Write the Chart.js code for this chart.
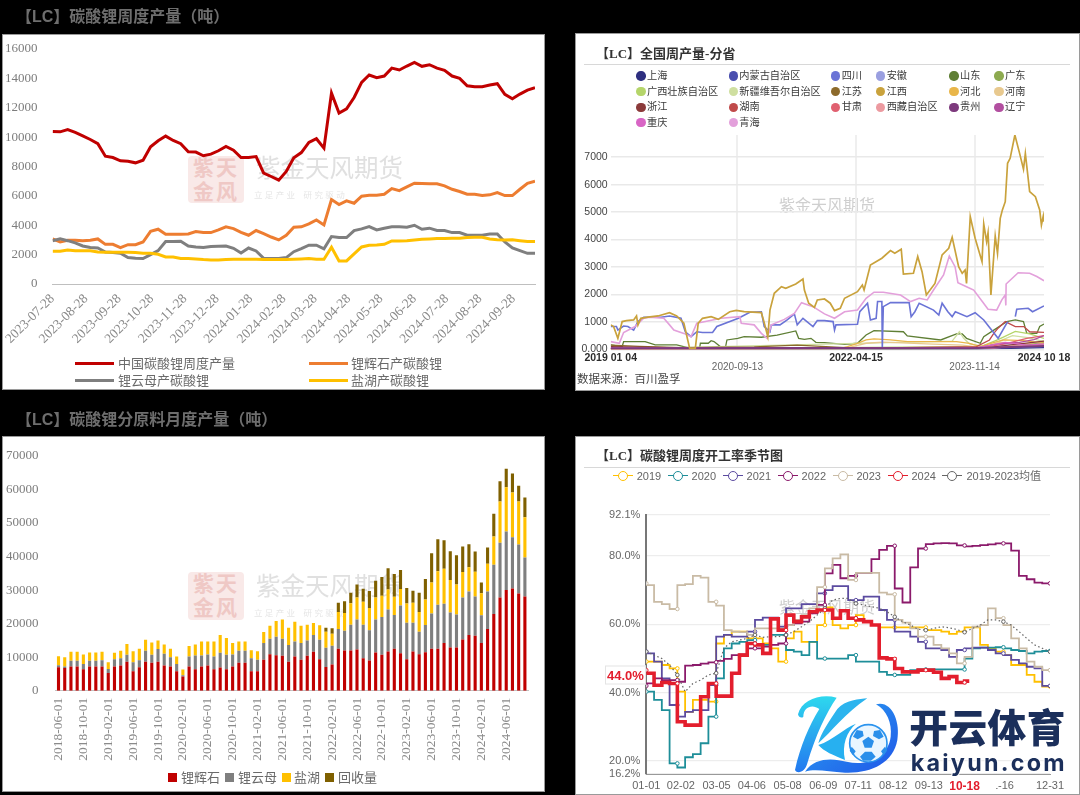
<!DOCTYPE html>
<html><head><meta charset="utf-8">
<script src="https://cdn.jsdelivr.net/npm/chart.js@4/dist/chart.umd.js"></script>
<style>
html,body{margin:0;padding:0;background:#000;width:1080px;height:795px;overflow:hidden}
body{position:relative;font-family:"Liberation Serif","Noto Sans CJK SC",serif}
.panel{position:absolute;background:#fff;box-shadow:inset 0 0 0 1px #9a9a9a}
canvas{position:absolute;left:0;top:0;filter:blur(.4px)}
.t{position:absolute;white-space:nowrap;transform:translateY(-50%);line-height:1;filter:blur(.3px)}
</style></head><body>
<script>
// ---------- Panel 1: weekly output (tons), one value per week from 2023-07-28
const weeklyStart='2023-07-28';
const weeklyTicks=['2023-07-28','2023-08-28','2023-09-28','2023-10-28','2023-11-28','2023-12-28','2024-01-28','2024-02-28','2024-03-28','2024-04-28','2024-05-28','2024-06-28','2024-07-28','2024-08-28','2024-09-28'];
const weeklyTotal=[10390,10360,10520,10320,10090,9840,9550,8700,8610,8390,8360,8250,8430,9340,9750,10070,9770,9550,9000,8980,8730,8840,9070,9360,9110,8610,8610,8680,7550,7320,7070,7660,8590,8950,9640,9890,9250,13000,11640,11930,12700,13730,14230,14050,14160,14700,14570,14840,15090,14820,14930,14700,14550,14160,14000,13500,13430,13430,13550,13640,12910,12610,12930,13200,13360];
const weeklySpodumene=[3070,2860,2980,2980,2950,2980,3070,2700,2700,2480,2680,2680,2860,3590,3730,3390,3390,3390,3410,3570,3500,3500,3680,3890,3770,3520,3320,3640,3430,3200,3000,3320,3860,3890,4090,4360,4020,5750,5410,5660,5500,5980,6050,6050,6110,6500,6360,6610,6860,6840,6820,6820,6680,6450,6300,6110,6110,6020,6070,6230,6020,6020,6450,6860,7000];
const weeklyLepidolite=[2950,3070,2950,2800,2590,2480,2450,2180,2140,2090,1800,1750,1730,2000,2270,2890,2890,2910,2590,2520,2480,2550,2570,2590,2430,2110,2450,2250,1750,1730,1730,1800,2200,2410,2640,2640,2390,3230,3160,3160,3640,3750,3910,3680,3800,3890,3890,3860,4000,3730,3800,3640,3640,3500,3500,3320,3320,3320,3410,3410,2860,2450,2270,2090,2090];
const weeklyBrine=[2230,2230,2320,2270,2270,2270,2180,2160,2160,2160,2160,2140,2090,2090,2020,1840,1840,1730,1730,1700,1660,1640,1640,1660,1680,1680,1680,1680,1660,1660,1660,1660,1680,1700,1730,1680,1680,2500,1570,1570,2050,2520,2640,2660,2700,2930,2930,2950,3000,3050,3070,3090,3090,3110,3110,3160,3180,3180,3070,3020,3000,3020,2950,2890,2890];

// ---------- Panel 2: provincial weekly output, sampled as (week since 2019-01-04, tons)
const jiangxiWeek=[0,2,5,8,11,16,18,19,21,26,33,41,46,51,55,59,61,64,70,75,83,87.5,93,105,107,109.5,111,114,119,122,129,134,135,138,142,144,149,153,156,160,163,172,175.4,176.6,181,189,195,198,202.5,204,211,214,217,220,226,231,235.6,238,242.5,245,247,248,250.6,254,258.8,260,262,263,265,268,269.6,271.5,273,275,276.6,278.4,281.7,285,287.7,289,292,296,299,300.2,301.5,302];
const jiangxiVal=[890,830,400,1010,1045,1070,1215,890,1130,1170,1215,1335,1215,950,40,40,950,1130,1190,1090,1370,1420,1370,1335,970,460,1430,2040,2280,2220,2380,2560,2160,1680,1530,1800,1835,1680,1410,1495,1860,2100,2345,2160,3070,3320,3600,3500,3645,2745,2770,3380,2830,1980,2400,3440,3680,4080,3010,2770,2890,2400,4835,4050,3195,4570,3925,4250,1980,4130,3500,4775,5080,5380,6780,6960,7810,7140,6560,7140,5750,5560,5080,4530,4860,4650];
const qinghaiWeek=[0,6,9,17,23,27,37,41,44,51,56,60,66,77,90,91,100,105,109,112,121,128,133,141,149,156,163,172,178,183.5,190,202,209,215,220.6,225,232,236,240,242,248,253,259,263,269,272.6,275,275.4,275.6,284,292,297,302];
const qinghaiVal=[280,220,610,830,1130,1170,1130,890,700,580,460,950,1010,1130,1190,950,890,580,400,890,1090,1310,1700,1555,1290,1130,1370,1430,1860,2080,2080,1980,1740,1860,1800,2160,2710,3400,3010,2430,2280,2160,1740,1460,1430,1800,1980,1600,2380,2790,2770,2650,2500];
const sichuanWeek=[0,4,5,9,12,16,19,23,35,41,49,52,56,60,64,71,74,89,97,105,107,111,112,118,123,128,130,134,141,144,149,155,156,157,172,173.6,179,181,185,186,189,189.3,190,195,208,209.4,212,215,225,228.7,231,235,238,240.2,248.3,254,260,264.5,270,276,277,null,282,283,291,294,302];
const sichuanVal=[830,830,700,850,830,700,1010,1170,1170,1215,1130,640,460,640,610,610,830,1130,1350,1370,830,640,890,890,1070,1290,890,1130,830,1045,1045,1010,700,890,910,1370,1680,1070,1130,1740,1740,40,1555,1700,1700,1190,1370,1680,1430,1250,1680,1370,1190,1370,1190,1335,1070,765,400,950,1000,null,1190,1460,1495,1370,1580];
const shandongWeek=[0,8,9,24,31,46,55,62,62.5,68,70,72,77,80,81,88.6,93,105,116,129,131,135,139.6,143,149,163,172,178,183.5,204,206.7,230,241,245,248,257.6,260,267,276,282,287.7,290,297,299,302];
const shandongVal=[160,100,280,280,160,160,40,40,220,220,315,280,70,70,340,400,460,440,520,670,400,365,400,255,240,180,220,520,680,640,485,340,560,560,400,220,460,700,1010,1070,1010,580,580,830,920];
const hunanWeek=[0,150,255,264,267,270,275,282,288,292,302];
const hunanVal=[20,20,100,340,580,770,1010,830,830,640,620];
const hebeiWeek=[0,160,165,172,178,183.5,195,207,218,241,250,257.6,265,274,287.7,302];
const hebeiVal=[15,30,100,220,340,380,340,280,280,280,220,100,220,340,315,220];
const henanWeek=[0,163,165,178,190,220,245,260,270,290,302];
const henanVal=[10,20,50,220,260,200,150,60,260,200,300];
const jiangsuWeek=[0,20,50,100,130,150,170,200,260,285,302];
const jiangsuVal=[150,110,60,90,150,100,40,20,50,120,200];
const xinjiangWeek=[0,238,243,246,250,262,280,292,302];
const xinjiangVal=[5,300,640,400,200,100,500,420,280];
const guangxiWeek=[0,258,270,282,292,302];
const guangxiVal=[5,100,350,650,560,400];
const zhejiangWeek=[0,50,150,170,260,285,302];
const zhejiangVal=[100,50,60,30,40,200,300];
const gansuWeek=[0,258,275,290,302];
const gansuVal=[5,50,200,400,500];
const tibetWeek=[0,265,280,302];
const tibetVal=[5,30,120,150];
const guizhouWeek=[0,150,250,302];
const guizhouVal=[40,50,40,120];
const liaoningWeek=[0,255,270,285,295,302];
const liaoningVal=[5,50,200,250,350,500];
const chongqingWeek=[0,100,255,275,290,302];
const chongqingVal=[50,40,50,250,150,200];
const shanghaiWeek=[0,255,302];
const shanghaiVal=[10,10,60];
const neimengWeek=[0,255,280,302];
const neimengVal=[5,5,60,100];
const anhuiWeek=[0,255,275,302];
const anhuiVal=[5,10,150,180];
const guangdongWeek=[0,255,275,302];
const guangdongVal=[5,10,100,250];
const provinceNames=['上海','内蒙古自治区','四川','安徽','山东','广东','广西壮族自治区','新疆维吾尔自治区','江苏','江西','河北','河南','浙江','湖南','甘肃','西藏自治区','贵州','辽宁','重庆','青海'];
const provinceTicks=['2019 01 04','2020-09-13','2022-04-15','2023-11-14','2024 10 18'];
const provinceTickWeeks=[0,88.3,171,253.6,302];

// ---------- Panel 3: monthly output by feedstock (tons), 2018-06 .. 2024-09
const monthly=[];
for(let y=2018,m=6;!(y===2024&&m===10);){monthly.push(y+'-'+String(m).padStart(2,'0')+'-01');if(++m>12){m=1;y++;}}
const monthSpodumene=[7000,6800,7200,7200,6400,7200,7200,7200,5300,7200,7500,8600,5800,7000,8600,8300,8600,7500,7200,5800,4200,7200,6400,7200,7500,6400,6900,6400,7200,8300,8300,5800,5800,9200,10900,10600,10400,8600,10200,9200,10400,11600,9400,7100,7800,12500,12000,12000,12300,9700,9000,11400,10700,11700,12500,11200,9400,11700,10900,11500,12500,12500,14200,12900,12900,15300,16600,16400,14200,18400,22900,27800,30000,30500,29000,28100];
const monthLepidolite=[600,400,1700,1700,1600,1700,1700,1900,1200,2200,2200,2100,2700,2100,3300,2400,3800,3500,2800,2200,400,3000,4100,3300,3300,3800,4400,4300,3600,3600,3600,3900,3400,5000,4600,5500,5100,5000,4500,5000,4600,5000,5800,5700,5600,5900,5900,7700,8900,10000,9000,9800,11300,12500,10100,14200,10900,8600,6700,8100,10500,13100,11700,10400,9800,12500,13000,11700,8300,11200,14700,16300,17500,15300,14600,11600];
const monthBrine=[2700,2800,2700,2700,2800,2500,2500,2500,2000,1900,2200,3200,3300,3400,3300,3700,2600,2800,2500,2200,1700,3100,3300,4200,3900,4500,5300,5000,3400,2800,2800,2400,2600,3300,3900,4700,5700,5200,5900,5200,4700,3600,4300,4800,3600,5100,5300,6400,6600,6800,6700,6600,6300,6000,5400,4900,5700,5900,5900,7600,9300,10000,10500,9700,9000,7600,7200,7400,6600,8300,8400,12300,13200,13300,12800,12000];
const monthRecycle=[0,0,0,0,0,0,0,0,0,0,0,0,0,0,0,0,0,0,0,0,0,0,0,0,0,0,0,0,0,0,0,0,0,0,0,0,0,0,0,0,0,0,0,1200,1600,2700,3500,3100,3900,3900,5000,5000,5600,6300,6800,5700,4600,3600,5700,6100,8700,9600,8500,8600,8700,7600,6900,6000,3200,4800,6800,6100,5500,5700,4700,5900];

// ---------- Panel 4: seasonal operating rate (%), one value per week of year
const seasonTicks=['01-01','02-02','03-05','04-06','05-08','06-09','07-11','08-12','09-13','10-18','11-16','12-31'];
const seasonTickWeeks=[0,4.46,9.05,13.6,18.2,22.8,27.3,31.8,36.4,41,45.6,52];
const seasonMarkers=[0,4,9,14,18,23,27,32,36,41,46,52];
const rate2019=[49.1,49.1,49.1,48.1,47.1,40.3,34.4,37.9,37.9,37.4,54.4,56.9,57.9,57.9,55.9,55.9,54.4,53.0,49.1,55.9,57.9,54.9,54.9,59.8,65.0,59.8,58.8,59.8,62.7,60.8,59.8,59.1,59.1,59.1,59.1,59.1,59.1,58.3,58.3,57.9,57.2,57.9,59.1,59.1,54.0,53.0,52.0,51.0,48.1,48.1,45.2,43.2,41.8];
const rate2020=[40.3,40.3,37.9,34.9,19.3,18.1,21.1,22.0,25.2,33.0,44.2,53.0,54.4,54.9,55.4,54.1,54.0,56.9,56.9,52.5,52.0,51.0,54.9,50.0,50.0,50.0,50.0,51.0,49.1,49.1,49.1,46.1,45.2,45.2,45.2,46.6,46.8,46.8,46.8,46.8,46.8,46.8,50.0,53.0,53.2,53.2,53.3,53.0,52.5,52.2,51.5,52.0,52.2];
const rate2021=[52.0,51.5,49.1,44.2,36.4,33.0,34.4,34.9,34.9,42.2,56.4,56.9,56.4,56.4,57.9,61.3,62.0,62.0,59.3,64.7,64.7,65.9,65.9,69.1,70.0,71.2,71.2,67.1,67.1,68.1,68.1,64.2,61.3,57.9,57.9,56.4,54.9,53.0,53.0,52.5,50.5,52.5,53.0,53.2,53.2,52.5,51.5,51.0,49.6,48.6,47.6,47.1,42.0];
const rate2022=[42.0,42.7,44.2,43.7,43.7,43.2,47.9,48.1,48.5,48.9,49.3,49.9,51.0,51.2,53.0,53.0,53.5,54.0,54.4,59.8,60.3,60.8,63.2,65.7,74.9,77.4,73.5,74.2,75.1,75.1,79.1,81.8,83.0,70.5,66.4,76.7,82.2,83.5,83.7,83.8,83.7,83.1,82.8,83.0,83.2,83.4,83.7,83.7,81.6,74.2,73.2,72.2,72.0];
const rate2023=[72.0,71.5,66.6,65.9,64.5,71.5,71.8,74.2,73.7,66.6,65.5,58.3,57.9,57.7,56.9,58.8,58.8,58.8,58.8,59.8,61.3,62.7,64.7,70.9,76.4,79.3,80.5,73.0,75.1,75.1,75.1,69.3,68.8,61.3,60.5,58.8,56.4,56.4,54.0,53.0,51.5,48.6,50.5,59.3,59.8,64.7,61.8,59.8,55.9,53.0,49.1,47.6,46.6];
const rate2024=[46.6,45.7,42.2,43.0,42.7,31.5,30.5,30.5,38.8,42.7,39.0,39.0,45.7,51.0,54.4,54.0,51.5,61.6,58.3,62.7,60.8,62.2,63.7,64.2,64.2,61.8,64.0,61.8,61.3,60.8,59.8,50.2,49.9,47.1,46.1,46.1,46.6,46.6,46.0,44.2,44.7,43.0,43.4];
const rateAvg=[52.0,51.0,50.0,48.1,45.2,40.3,42.7,43.7,45.2,45.7,53.0,54.9,55.4,55.9,56.9,56.2,56.4,56.4,56.9,57.9,59.3,60.8,62.7,64.7,67.1,67.6,67.6,66.1,65.7,65.2,64.7,63.7,62.2,60.8,59.8,58.6,58.3,58.8,59.3,59.0,58.5,57.7,58.8,59.8,61.3,61.3,60.8,59.8,57.9,55.9,54.0,53.0,52.0];
const seasonNames=['2019','2020','2021','2022','2023','2024','2019-2023均值'];
const seasonYTicks=[92.1,80,60,40,20,16.2];

// ---------- helpers
const SERIF='"Liberation Serif","Noto Sans CJK SC"';
const SANS='"Liberation Sans","Noto Sans CJK SC"';
Chart.defaults.font.family=SERIF;
Chart.defaults.animation=false;
function txt(s,x,y,size,color,opt={}){
  const d=document.createElement('div');d.className='t';d.textContent=s;
  d.style.cssText+=`left:${x}px;top:${y}px;font-size:${size}px;color:${color};`+(opt.css||'');
  d.style.fontFamily=opt.font||SANS;
  (opt.z)&&(d.style.zIndex=opt.z);
  document.body.appendChild(d);return d;
}
function panel(x,y,w,h){
  const p=document.createElement('div');p.className='panel';
  p.style.cssText=`left:${x}px;top:${y}px;width:${w}px;height:${h}px`;
  document.body.appendChild(p);return p;
}
function canvasIn(p,w,h){
  const c=document.createElement('canvas');c.width=w;c.height=h;c.style.width=w+'px';c.style.height=h+'px';
  c.style.zIndex=2;p.appendChild(c);return c;
}
function seal(x,y,w,h){
  const s=document.createElement('div');
  s.style.cssText=`position:absolute;left:${x}px;top:${y}px;width:${w}px;height:${h}px;background:#f9e9e8;border-radius:4px;color:#efc8c5;font:bold 21px ${SERIF};line-height:24px;text-align:center;letter-spacing:2px;white-space:pre`;
  s.textContent='紫天\n金风';document.body.appendChild(s);
}
function swatchLine(x,y,w,color,h){
  const d=document.createElement('div');
  d.style.cssText=`position:absolute;left:${x}px;top:${y-h/2}px;width:${w}px;height:${h}px;background:${color}`;
  document.body.appendChild(d);
}
function zip(xs,ys){return xs.map((x,i)=>({x:x,y:ys[i]}));}
const base={responsive:false,maintainAspectRatio:false,layout:{autoPadding:false},plugins:{legend:{display:false},tooltip:{enabled:false}},elements:{point:{radius:0}}};

// ---------- black-band titles
txt('【LC】碳酸锂周度产量（吨）',16,17,16,'#6e6e6e',{css:'font-weight:bold'});
txt('【LC】碳酸锂分原料月度产量（吨）',16,420,16,'#6e6e6e',{css:'font-weight:bold'});

// ---------- Panel 1
const p1=panel(2,34,543,356);
seal(188,156,56,47);
txt('紫金天风期货',256,169,24.5,'#e0e0e0');
txt('立 足 产 业　研 究 驱 动',254,195,8.5,'#e6e6e6');
const dayOf=s=>(Date.parse(s)-Date.parse(weeklyStart))/864e5;
const c1=canvasIn(p1,543,356);
new Chart(c1,{type:'line',
 data:{datasets:[
  {label:'中国碳酸锂周度产量',data:weeklyTotal.map((v,i)=>({x:i*7,y:v})),borderColor:'#C00000',borderWidth:3,order:1},
  {label:'锂辉石产碳酸锂',data:weeklySpodumene.map((v,i)=>({x:i*7,y:v})),borderColor:'#ED7D31',borderWidth:3,order:4},
  {label:'锂云母产碳酸锂',data:weeklyLepidolite.map((v,i)=>({x:i*7,y:v})),borderColor:'#7F7F7F',borderWidth:3,order:3},
  {label:'盐湖产碳酸锂',data:weeklyBrine.map((v,i)=>({x:i*7,y:v})),borderColor:'#FFC000',borderWidth:3,order:2}]},
 options:{...base,layout:{autoPadding:false,padding:{top:15,right:10}},scales:{
  x:{type:'linear',min:0,max:448,afterFit(s){s.height=106},
     afterBuildTicks(s){s.ticks=weeklyTicks.map(t=>({value:dayOf(t)}))},
     grid:{display:false,drawTicks:true,tickLength:4,drawOnChartArea:false,tickColor:'#bfbfbf'},
     border:{color:'#bfbfbf'},
     ticks:{autoSkip:false,minRotation:45,maxRotation:45,padding:3,color:'#8a8a8a',font:{size:13.5},callback:(v,i)=>weeklyTicks[i]}},
  y:{min:0,max:16000,afterFit(s){s.width=50.6},
     afterBuildTicks(s){s.ticks=[0,2000,4000,6000,8000,10000,12000,14000,16000].map(v=>({value:v}))},
     grid:{display:false},border:{display:false},
     ticks:{padding:7,color:'#7d7d7d',font:{size:13},callback:v=>String(v)}}}}});
[['中国碳酸锂周度产量',75,118,363,'#C00000'],['锂辉石产碳酸锂',309,351,363,'#ED7D31'],['锂云母产碳酸锂',75,118,380,'#7F7F7F'],['盐湖产碳酸锂',309,351,380,'#FFC000']].forEach(a=>{
  swatchLine(a[1],a[3],39,a[4],3);txt(a[0],a[2],a[3],13,'#6a6a6a');
});

// ---------- Panel 2
const p2=panel(575,33,505,358);
txt('【LC】全国周产量-分省',596,52.5,13,'#333',{font:SERIF,css:'font-weight:bold'});
swatchLine(584,64,486,'#d8d8d8',1);
txt('紫金天风期货',779,206,16,'#cfcfcf',{z:1});
const provColors=['#2E2F80','#4A4FAF','#6B74D6','#9A9FE0','#5F7F35','#8DAA50','#B5D56A','#CFDFA0','#8C6A2B','#C9A23C','#E9B64A','#E8C98F','#8B3A3A','#C04A4A','#E06070','#EC9AA0','#7D3A7D','#B24FA0','#D865C5','#E3A0DB'];
const provData=[[shanghaiWeek,shanghaiVal],[neimengWeek,neimengVal],[sichuanWeek,sichuanVal],[anhuiWeek,anhuiVal],[shandongWeek,shandongVal],[guangdongWeek,guangdongVal],[guangxiWeek,guangxiVal],[xinjiangWeek,xinjiangVal],[jiangsuWeek,jiangsuVal],[jiangxiWeek,jiangxiVal],[hebeiWeek,hebeiVal],[henanWeek,henanVal],[zhejiangWeek,zhejiangVal],[hunanWeek,hunanVal],[gansuWeek,gansuVal],[tibetWeek,tibetVal],[guizhouWeek,guizhouVal],[liaoningWeek,liaoningVal],[chongqingWeek,chongqingVal],[qinghaiWeek,qinghaiVal]];
const provOrder={'江西':-50,'青海':-40,'四川':-30,'贵州':-45};
const provWidth={'江西':1.7,'青海':1.6,'四川':1.6,'贵州':1.9};
new Chart(canvasIn(p2,505,358),{type:'line',
 data:{datasets:provinceNames.map((n,i)=>({label:n,data:zip(provData[i][0],provData[i][1]),borderColor:provColors[i],borderWidth:provWidth[n]??1.3,order:provOrder[n]??-i,spanGaps:false}))},
 options:{...base,layout:{autoPadding:false,padding:{top:102,right:36}},scales:{
  x:{type:'linear',min:0,max:302,afterFit(s){s.height=41.7},
     afterBuildTicks(s){s.ticks=provinceTickWeeks.map(v=>({value:v}))},
     grid:{color:(c)=>(c.index>0&&c.index<4)?'#efefef':'rgba(0,0,0,0)',lineWidth:2,drawTicks:false},
     border:{display:false},
     ticks:{autoSkip:false,maxRotation:0,minRotation:0,padding:4,align:'center',
       color:c=>c.index%2?'#666':'#2b2b2b',font:c=>({family:SANS,size:c.index%2?10:10.5,weight:c.index%2?'normal':'bold',lineHeight:.9}),
       callback:(v,i)=>i%2?['',provinceTicks[i]]:provinceTicks[i]}},
  y:{min:0,max:7810,afterFit(s){s.width=35.7},
     afterBuildTicks(s){s.ticks=[0,1000,2000,3000,4000,5000,6000,7000].map(v=>({value:v}))},
     grid:{color:'#e9e9e9',lineWidth:1.5,drawTicks:false},border:{display:false},
     ticks:{padding:3,color:'#444',font:{family:SANS,size:10.5},callback:v=>v===0?'0.000':String(v)}}}}});
const legCols=[641,733.3,835.7,880.7,954,999],legRows=[76,91.7,107.3,122.7];
provinceNames.forEach((n,i)=>{
  const cx=legCols[i%6],cy=legRows[Math.floor(i/6)];
  const d=document.createElement('div');
  d.style.cssText=`position:absolute;left:${cx-4.7}px;top:${cy-4.7}px;width:9.4px;height:9.4px;border-radius:50%;background:${provColors[i]}`;
  document.body.appendChild(d);
  txt(n,cx+6,cy,10.2,'#3a3a3a');
});
txt('数据来源：百川盈孚',577,380,11.5,'#444');

// ---------- Panel 3
const p3=panel(2,436,543,356);
seal(188,572,56,48);
txt('紫金天风期货',256,587,24.5,'#e0e0e0');
txt('立 足 产 业　研 究 驱 动',254,613,8.5,'#e6e6e6');
new Chart(canvasIn(p3,543,356),{type:'bar',
 data:{labels:monthly,datasets:[
  {label:'锂辉石',data:monthSpodumene,backgroundColor:'#C00000'},
  {label:'锂云母',data:monthLepidolite,backgroundColor:'#7F7F7F'},
  {label:'盐湖',data:monthBrine,backgroundColor:'#FFC000'},
  {label:'回收量',data:monthRecycle,backgroundColor:'#7F6000'}]},
 options:{...base,datasets:{bar:{barPercentage:.5,categoryPercentage:1}},layout:{autoPadding:false,padding:{top:20,right:17}},scales:{
  x:{stacked:true,afterFit(s){s.height=101.3},
     afterBuildTicks(s){s.ticks=s.ticks.filter((t,i)=>i%4===0)},
     grid:{display:false,drawOnChartArea:false,drawTicks:true,tickLength:4,tickColor:'#bfbfbf'},border:{color:'#c4c4c4'},
     ticks:{autoSkip:false,minRotation:90,maxRotation:90,padding:3,color:'#8a8a8a',font:{size:13.5}}},
  y:{stacked:true,min:0,max:70000,afterFit(s){s.width=53.4},
     afterBuildTicks(s){s.ticks=[0,10000,20000,30000,40000,50000,60000,70000].map(v=>({value:v}))},
     grid:{display:false},border:{display:false},
     ticks:{padding:9,color:'#7d7d7d',font:{size:13},callback:v=>String(v)}}}}});
[['锂辉石',168,181,'#C00000'],['锂云母',225,238,'#7F7F7F'],['盐湖',282,294,'#FFC000'],['回收量',325,338,'#7F6000']].forEach(a=>{
  const d=document.createElement('div');
  d.style.cssText=`position:absolute;left:${a[1]}px;top:773px;width:8.5px;height:8.5px;background:${a[3]}`;
  document.body.appendChild(d);
  txt(a[0],a[2],777,13,'#6a6a6a');
});

// ---------- Panel 4
const p4=panel(575,436,505,359);
txt('【LC】碳酸锂周度开工率季节图',596,455,13,'#333',{font:SERIF,css:'font-weight:bold'});
swatchLine(584,467,486,'#d8d8d8',1);
txt('紫金天风期货',779,608,16,'#cfcfcf',{z:1});
const seasonColors=['#FFC000','#1E8E99','#5B4BA0','#8B1A6B','#C9BBA5','#E31E2D','#666666'];
const mk=(arr,i,extra={})=>({label:seasonNames[i],data:arr.map((v,k)=>({x:(i===5&&k===arr.length-1)?41.6:k,y:v})),borderColor:seasonColors[i],borderWidth:1.8,stepped:'after',
   pointBackgroundColor:'#fff',pointBorderColor:seasonColors[i],pointBorderWidth:1,pointRadius:c=>(seasonMarkers.includes(c.dataIndex))?1.8:0,...extra});
new Chart(canvasIn(p4,505,359),{type:'line',
 data:{datasets:[
  mk(rate2024,5,{borderWidth:3.6,order:1}),
  mk(rateAvg,6,{borderWidth:1.2,borderDash:[1.5,2.5],stepped:false,order:2}),
  mk(rate2023,4,{order:3}),mk(rate2022,3,{order:4}),mk(rate2021,2,{order:5}),mk(rate2020,1,{order:6}),mk(rate2019,0,{order:7})]},
 options:{...base,layout:{autoPadding:false,padding:{top:78.7,right:30}},scales:{
  x:{type:'linear',min:0,max:52,afterFit(s){s.height=21},
     afterBuildTicks(s){s.ticks=seasonTickWeeks.map(v=>({value:v}))},
     grid:{display:false,drawOnChartArea:false,drawTicks:true,tickLength:3,tickColor:'#888'},border:{color:'#999',width:1},
     ticks:{autoSkip:false,maxRotation:0,minRotation:0,padding:2,
       color:c=>c.index===9?'#E31E2D':'#666',
       font:c=>c.index===9?{family:SANS,size:12,weight:'bold'}:{family:SANS,size:11},
       callback:(v,i)=>seasonTicks[i]}},
  y:{min:16.2,max:92.1,afterFit(s){s.width=71.3},
     afterBuildTicks(s){s.ticks=seasonYTicks.map(v=>({value:v}))},
     grid:{color:'#ededed',lineWidth:1.2,drawTicks:false},border:{color:'#777',width:2},
     ticks:{padding:6,color:'#666',font:{family:SANS,size:11},callback:v=>v.toFixed(1)+'%'}}}}});
const legX=[622.7,677.6,732.6,787.6,842.5,897.5,952.4];
seasonNames.forEach((n,i)=>{
  swatchLine(legX[i]-10,475.7,20,seasonColors[i],1.2);
  const d=document.createElement('div');
  d.style.cssText=`position:absolute;left:${legX[i]-5}px;top:${475.7-5}px;width:8px;height:8px;border-radius:50%;background:#fff;border:1px solid ${seasonColors[i]}`;
  document.body.appendChild(d);
  txt(n,legX[i]+14,475.5,11,'#666');
});
txt('44.0%',605,675,13,'#E31E2D',{z:2,css:'font-weight:bold;background:#fff;border:1px solid #e4e4e4;padding:2px 1px;'});
</script>
<!-- brand overlay -->
<svg width="510" height="360" viewBox="0 0 1530 1080" style="position:absolute;left:570px;top:435px;z-index:5">
 <defs>
  <linearGradient id="g1" x1="0" y1="0" x2="0" y2="1"><stop offset="0" stop-color="#2ED8EE"/><stop offset="1" stop-color="#2378F0"/></linearGradient>
  <linearGradient id="g2" x1="0" y1="0" x2="1" y2="1"><stop offset="0" stop-color="#2AA6F2"/><stop offset="1" stop-color="#2055E8"/></linearGradient>
 </defs>
 <rect x="1118" y="1030" width="16" height="34" fill="#fff"/>
 <rect x="1245" y="1030" width="33" height="34" fill="#fff"/>
 <path d="M684 838C695 795 750 775 800 788C770 830 735 905 712 985C705 1012 682 1018 675 1005C690 935 718 870 748 822C728 806 700 815 700 845C696 850 686 848 684 838Z" fill="url(#g1)"/>
 <path d="M745 925C785 890 825 835 892 790C870 792 825 795 802 822C778 858 752 895 745 925Z" fill="#2CB4EE"/>
 <path d="M918 808C965 795 992 860 982 915C970 985 900 1016 825 1013C775 1010 735 1000 705 1010C735 965 790 970 830 980C895 995 955 965 962 905C967 865 950 825 918 808Z" fill="url(#g2)"/>
 <path d="M745 930C790 915 822 880 858 866C830 890 815 930 825 975C790 960 762 950 745 930Z" fill="#27B0F0"/>
 <circle cx="895" cy="925" r="56" fill="#eaf6ff" stroke="#2A93EE" stroke-width="5"/>
 <g fill="#2A8FEA"><path d="M895 905l17 13-7 20h-21l-7-20z"/><path d="M860 885l18 3 3 15-18 10-14-8z"/><path d="M930 885l-18 3-3 15 18 10 14-8z"/><path d="M870 965l15-15 20 0 12 15-14 12h-24z"/><path d="M845 935l12 14-8 12-10-14z"/><path d="M945 935l-12 14 8 12 10-14z"/></g>
 <text x="1018" y="920" font-family="Noto Sans CJK SC" font-weight="900" font-size="116" fill="#1B2F5B" stroke="#fff" stroke-width="5" paint-order="stroke" textLength="468">开云体育</text>
 <text x="1022" y="1008" font-family="Inter,Noto Sans" font-weight="700" font-size="70" fill="#1B2F5B" stroke="#fff" stroke-width="6" paint-order="stroke" textLength="462">kaiyun.com</text>
</svg>
</body></html>
